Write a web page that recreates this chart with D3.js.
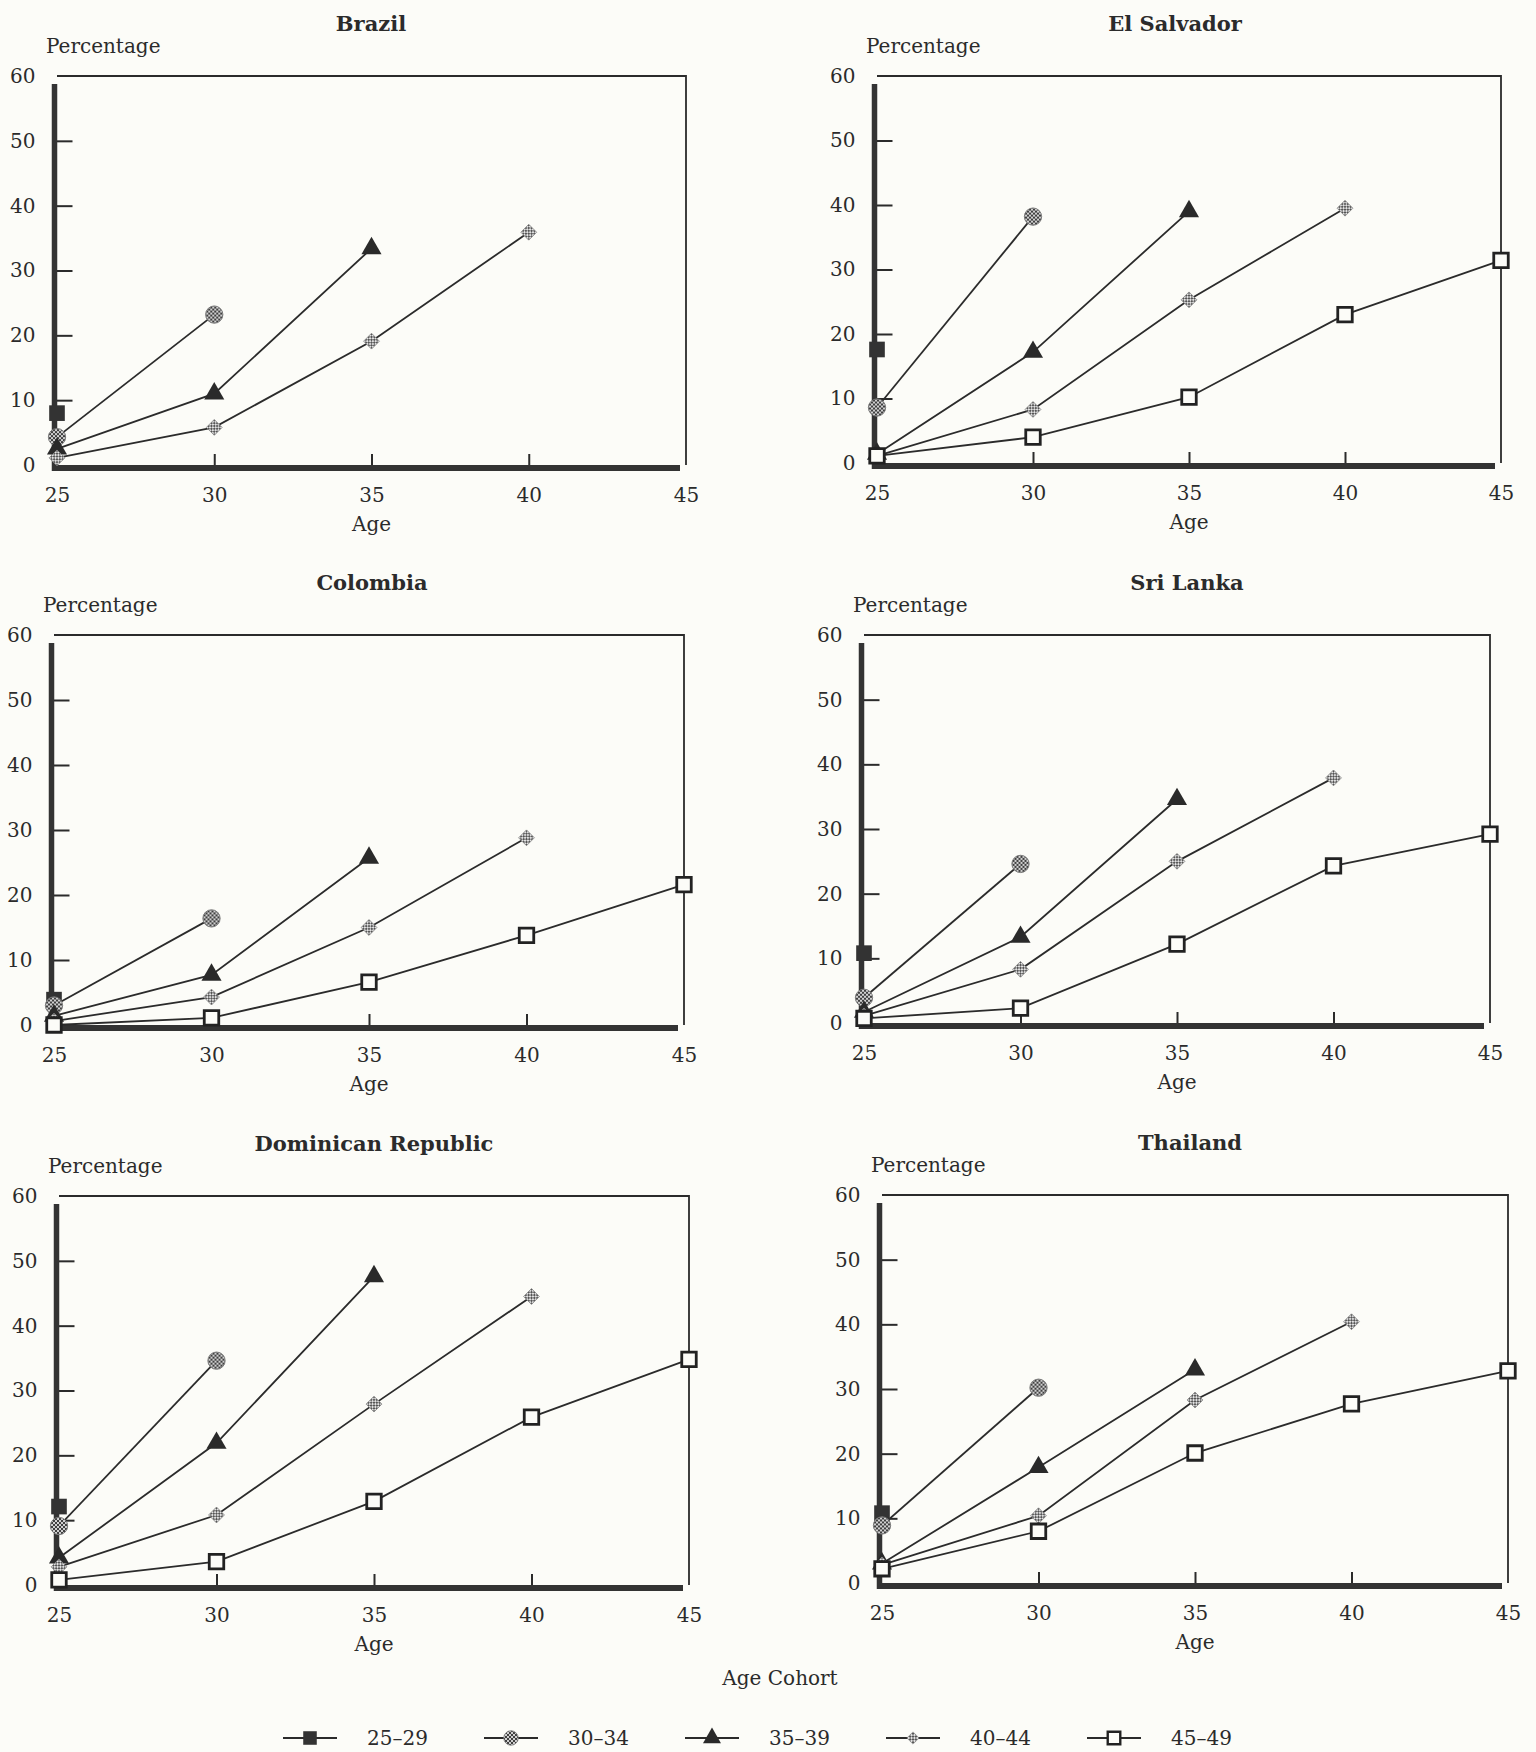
<!DOCTYPE html>
<html lang="en">
<head>
<meta charset="UTF-8">
<title>Percentage by age and age cohort</title>
<script src="https://d3js.org/d3.v7.min.js"></script>
<style>
  body { margin: 0; background: #fcfcf8; }
  svg { display: block; font-family: "DejaVu Serif", serif; }
</style>
</head>
<body>
<div id="chart"></div>
<script>
// x axis ages, y axis ticks and the cohorts
const ages = [25, 30, 35, 40, 45];
const yTicks = [0, 10, 20, 30, 40, 50, 60];
const cohorts = ["25–29", "30–34", "35–39", "40–44", "45–49"];

// percentage for each cohort, one value per age starting at 25
const brazil     = [[8.0], [4.3, 23.2], [2.5, 11.0, 33.4], [1.1, 5.8, 19.1, 35.9], []];
const elSalvador = [[17.6], [8.6, 38.2], [1.4, 17.2, 39.0], [1.1, 8.3, 25.3, 39.5], [1.1, 4.0, 10.2, 23.0, 31.4]];
const colombia   = [[3.9], [3.0, 16.4], [1.4, 7.7, 25.7], [0.6, 4.3, 15.0, 28.8], [0.0, 1.1, 6.6, 13.8, 21.6]];
const sriLanka   = [[10.8], [3.9, 24.6], [1.7, 13.3, 34.6], [1.1, 8.3, 25.0, 37.9], [0.7, 2.3, 12.2, 24.3, 29.2]];
const domRep     = [[12.1], [9.1, 34.6], [4.2, 21.9, 47.6], [2.8, 10.8, 27.9, 44.5], [0.8, 3.6, 12.9, 25.9, 34.8]];
const thailand   = [[10.8], [8.9, 30.2], [3.0, 17.9, 33.0], [2.8, 10.4, 28.3, 40.4], [2.2, 8.0, 20.1, 27.7, 32.8]];

// panel layout (plot area in page pixels)
const panels = [
  { name: "Brazil", values: brazil, x0: 57, x1: 686, yTop: 76, yBase: 465, tx: 371 },
  { name: "El Salvador", values: elSalvador, x0: 877, x1: 1501, yTop: 76, yBase: 463, tx: 1175 },
  { name: "Colombia", values: colombia, x0: 54, x1: 684, yTop: 635, yBase: 1025, tx: 372 },
  { name: "Sri Lanka", values: sriLanka, x0: 864, x1: 1490, yTop: 635, yBase: 1023, tx: 1187 },
  { name: "Dominican Republic", values: domRep, x0: 59, x1: 689, yTop: 1196, yBase: 1585, tx: 374 },
  { name: "Thailand", values: thailand, x0: 882, x1: 1508, yTop: 1195, yBase: 1583, tx: 1190 }
];

const ink = "#2b2b2b";
const bg = "#fcfcf8";

const svg = d3.select("#chart").append("svg").attr("width", 1536).attr("height", 1752);
const defs = svg.append("defs");

// dithered fills like the printed markers
function checker(id, light, dark) {
  const p = defs.append("pattern").attr("id", id)
    .attr("width", 4).attr("height", 4).attr("patternUnits", "userSpaceOnUse");
  p.append("rect").attr("width", 4).attr("height", 4).attr("fill", light);
  p.append("rect").attr("width", 2).attr("height", 2).attr("fill", dark);
  p.append("rect").attr("x", 2).attr("y", 2).attr("width", 2).attr("height", 2).attr("fill", dark);
}
checker("dotsDark", "#d0d0d0", "#404040");
checker("dotsLight", "#e2e2e2", "#555555");

const markerStyle = [
  { type: d3.symbolSquare, size: 245, fill: "#333", stroke: "none", sw: 0, rot: 0, leg: 0.75 },
  { type: d3.symbolCircle, size: 235, fill: "url(#dotsDark)", stroke: "#7a7a7a", sw: 1, rot: 0, leg: 0.7 },
  { type: d3.symbolTriangle, size: 175, fill: "#2a2a2a", stroke: "none", sw: 0, rot: 0, leg: 0.8 },
  { type: d3.symbolSquare, size: 125, fill: "url(#dotsLight)", stroke: "#888", sw: 0.8, rot: 45, leg: 0.6 },
  { type: d3.symbolSquare, size: 210, fill: bg, stroke: "#222", sw: 2.8, rot: 0, leg: 0.75 }
];

function marker(g, i, cx, cy, legend) {
  const m = markerStyle[i];
  const s = legend ? m.leg : 1;
  g.append("path")
    .attr("d", d3.symbol(m.type, m.size * s)())
    .attr("transform", `translate(${cx},${cy}) rotate(${m.rot})`)
    .attr("fill", m.fill)
    .attr("stroke", m.stroke)
    .attr("stroke-width", m.sw * (legend ? 0.85 : 1));
}

function fontUp(sel) {
  sel.attr("font-family", "DejaVu Serif").attr("font-size", 20);
  sel.selectAll("text").attr("fill", ink);
}

panels.forEach(p => {
  const g = svg.append("g");
  const x = d3.scaleLinear().domain([25, 45]).range([p.x0, p.x1]);
  const y = d3.scaleLinear().domain([0, 60]).range([p.yBase, p.yTop]);

  // thin top and right frame
  g.append("path")
    .attr("d", `M${p.x0},${p.yTop}H${p.x1}V${p.yBase}`)
    .attr("fill", "none").attr("stroke", ink).attr("stroke-width", 1.8);

  const yAxis = g.append("g").attr("transform", `translate(${p.x0 - 2.5},0)`)
    .call(d3.axisLeft(y).tickValues(yTicks).tickSize(-18).tickPadding(19));
  yAxis.select(".domain").remove();
  yAxis.selectAll(".tick line").filter(d => d === 0 || d === 60).remove();
  yAxis.selectAll(".tick line").attr("stroke", ink).attr("stroke-width", 2);
  fontUp(yAxis);

  const xAxis = g.append("g").attr("transform", `translate(0,${p.yBase + 3})`)
    .call(d3.axisBottom(x).tickValues(ages).tickSize(-14).tickPadding(20));
  xAxis.select(".domain").remove();
  xAxis.selectAll(".tick line").filter(d => d === 25 || d === 45).remove();
  xAxis.selectAll(".tick line").attr("stroke", ink).attr("stroke-width", 2);
  fontUp(xAxis);

  // heavy left and bottom axis bars
  g.append("line")
    .attr("x1", p.x0 - 2.5).attr("x2", p.x0 - 2.5)
    .attr("y1", p.yTop + 8).attr("y2", p.yBase + 6)
    .attr("stroke", "#333").attr("stroke-width", 5.5);
  g.append("line")
    .attr("x1", p.x0 - 5).attr("x2", p.x1 - 6)
    .attr("y1", p.yBase + 3).attr("y2", p.yBase + 3)
    .attr("stroke", "#333").attr("stroke-width", 6);

  g.append("text").attr("x", p.tx).attr("y", p.yTop - 45)
    .attr("text-anchor", "middle").attr("font-size", 21).attr("font-weight", "bold")
    .attr("fill", ink).text(p.name);
  g.append("text").attr("x", p.x0 - 11).attr("y", p.yTop - 23)
    .attr("font-size", 20).attr("fill", ink).text("Percentage");
  g.append("text").attr("x", (p.x0 + p.x1) / 2).attr("y", p.yBase + 66)
    .attr("text-anchor", "middle").attr("font-size", 20).attr("fill", ink).text("Age");

  const line = d3.line().x((d, i) => x(ages[i])).y(d => y(d));
  p.values.forEach(vals => {
    if (vals.length > 1) {
      g.append("path").attr("d", line(vals))
        .attr("fill", "none").attr("stroke", ink).attr("stroke-width", 1.8);
    }
  });
  p.values.forEach((vals, ci) => {
    vals.forEach((v, i) => marker(g, ci, x(ages[i]), y(v), false));
  });
});

// legend
const legend = svg.append("g");
legend.append("text").attr("x", 780).attr("y", 1685)
  .attr("text-anchor", "middle").attr("font-size", 20).attr("fill", ink).text("Age Cohort");

const legendX = d3.scaleLinear().domain([0, cohorts.length - 1]).range([310, 1114]);
cohorts.forEach((c, i) => {
  const cx = legendX(i);
  legend.append("line").attr("x1", cx - 27).attr("x2", cx + 27)
    .attr("y1", 1738).attr("y2", 1738).attr("stroke", ink).attr("stroke-width", 2);
  marker(legend, i, cx, 1738, true);
  legend.append("text").attr("x", cx + 57).attr("y", 1745)
    .attr("font-size", 20).attr("fill", ink).text(c);
});
</script>
</body>
</html>
